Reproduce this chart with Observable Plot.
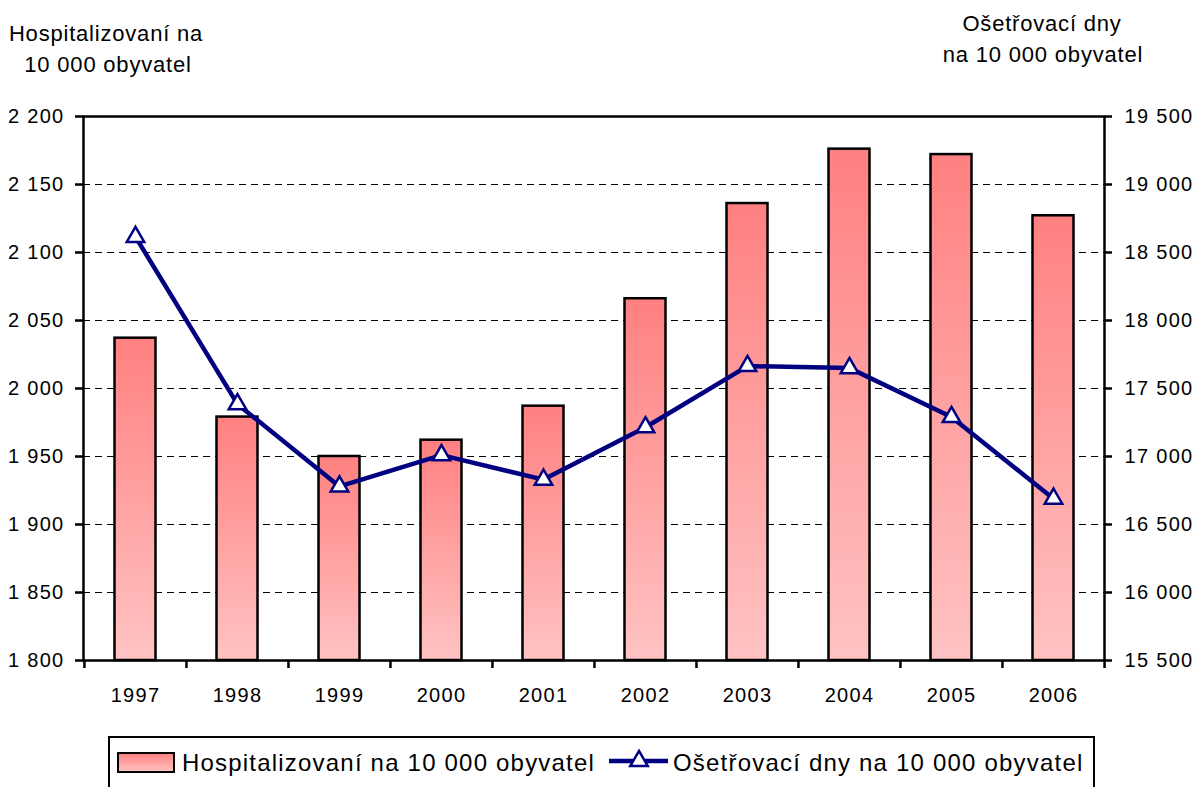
<!DOCTYPE html>
<html>
<head>
<meta charset="utf-8">
<script src="https://cdn.jsdelivr.net/npm/d3@7"></script>
<script src="https://cdn.jsdelivr.net/npm/@observablehq/plot@0.6"></script>
<style>
  body { margin: 0; background: #fff; }
  #wrap { position: relative; width: 1201px; height: 787px; overflow: hidden; background: #fff; }
  #wrap svg { display: block; }
  #overlay { position: absolute; left: 0; top: 0; pointer-events: none; }
</style>
</head>
<body>
<div id="wrap"></div>
<script>
// ---- data ----
const years = [1997, 1998, 1999, 2000, 2001, 2002, 2003, 2004, 2005, 2006];
const hospitalized = [2037, 1979, 1950, 1962, 1987, 2066, 2136, 2176, 2172, 2127];
const treatmentDays = [18615, 17385, 16780, 17010, 16830, 17215, 17665, 17650, 17290, 16690];
const leftTicks = [1800, 1850, 1900, 1950, 2000, 2050, 2100, 2150, 2200];
const rightTicks = [15500, 16000, 16500, 17000, 17500, 18000, 18500, 19000, 19500];
const seriesNames = ["Hospitalizovaní na 10 000 obyvatel", "Ošetřovací dny na 10 000 obyvatel"];
const leftTitle = ["Hospitalizovaní na", "10 000 obyvatel"];
const rightTitle = ["Ošetřovací dny", "na 10 000 obyvatel"];

const leftMin = leftTicks[0], leftMax = leftTicks[leftTicks.length - 1];
const rightMin = rightTicks[0], rightMax = rightTicks[rightTicks.length - 1];
const toLeft = v => leftMin + (v - rightMin) * (leftMax - leftMin) / (rightMax - rightMin);
const toRight = v => rightMin + (v - leftMin) * (rightMax - rightMin) / (leftMax - leftMin);

const table = years.map((year, i) => ({year, hosp: hospitalized[i], days: treatmentDays[i]}));

const fmt = d3.formatLocale({thousands: " ", grouping: [3], decimal: ",", currency: ["", ""]}).format(",");

const W = 1201, H = 787;
const mL = 83, mR = 97, mT = 116, mB = 127;
const step = (W - mL - mR) / years.length;
const plotH = H - mT - mB;
const FONT = "'Liberation Sans', Arial, sans-serif";
const NAVY = "#000080";
const MARKER_R = 6.5;

const plot = Plot.plot({
  width: W, height: H,
  marginLeft: mL, marginRight: mR, marginTop: mT, marginBottom: mB,
  style: {fontFamily: FONT, fontSize: "20px", letterSpacing: "1.3px", color: "#000", background: "#fff", overflow: "visible"},
  x: {type: "band", domain: years, padding: 0},
  y: {domain: [leftMin, leftMax]},
  marks: [
    Plot.gridY(leftTicks.slice(1, -1), {stroke: "#000", strokeOpacity: 1, strokeWidth: 1, strokeDasharray: "7,5"}),
    Plot.barY(table, {x: "year", y1: () => leftMin, y2: "hosp", fill: "url(#barGrad)", stroke: "#000", strokeWidth: 2.5, insetLeft: 30.5, insetRight: 30.5}),
    Plot.frame({stroke: "#000", strokeWidth: 2.5}),
    Plot.ruleX(years, {x: d => d, dx: -step / 2, insetTop: plotH, insetBottom: -8, stroke: "#000", strokeWidth: 2.5}),
    Plot.ruleX(years.slice(-1), {x: d => d, dx: step / 2, insetTop: plotH, insetBottom: -8, stroke: "#000", strokeWidth: 2.5}),
    Plot.line(table, {x: "year", y: d => toLeft(d.days), stroke: NAVY, strokeWidth: 4.5}),
    Plot.dot(table, {x: "year", y: d => toLeft(d.days), symbol: "triangle", r: MARKER_R, fill: "#fff", stroke: NAVY, strokeWidth: 2.5}),
    Plot.axisY(leftTicks, {anchor: "left", tickSize: 8, tickPadding: 11, tickFormat: fmt, fontSize: 20, label: null, strokeWidth: 2.5}),
    Plot.axisY(leftTicks, {anchor: "right", tickSize: 7, tickPadding: 13, tickFormat: d => fmt(Math.round(toRight(d))), fontSize: 20, label: null, strokeWidth: 2.5}),
    Plot.axisX({tickSize: 0, tickPadding: 27, fontSize: 20, label: null, tickFormat: d => String(d)})
  ]
});

const ns = "http://www.w3.org/2000/svg";
function addGradient(svg, id) {
  const defs = document.createElementNS(ns, "defs");
  const g = document.createElementNS(ns, "linearGradient");
  g.setAttribute("id", id);
  g.setAttribute("x1", "0"); g.setAttribute("y1", "0");
  g.setAttribute("x2", "0"); g.setAttribute("y2", "1");
  [["0%", "#FF8080"], ["100%", "#FFC3C3"]].forEach(([o, c]) => {
    const s = document.createElementNS(ns, "stop");
    s.setAttribute("offset", o); s.setAttribute("stop-color", c);
    g.appendChild(s);
  });
  defs.appendChild(g);
  svg.insertBefore(defs, svg.firstChild);
}
addGradient(plot, "barGrad");
const wrap = document.getElementById("wrap");
wrap.appendChild(plot);

// ---- overlay: axis titles and legend ----
const ov = d3.select(wrap).append("svg").attr("id", "overlay").attr("width", W).attr("height", H)
  .style("font-family", FONT);
addGradient(ov.node(), "legGrad");

const tt = ov.append("g").attr("font-size", 22).attr("letter-spacing", "0.8px").attr("text-anchor", "middle").attr("fill", "#000");
tt.append("text").attr("x", 106).attr("y", 41).text(leftTitle[0]);
tt.append("text").attr("x", 108).attr("y", 72).text(leftTitle[1]);
tt.append("text").attr("x", 1042).attr("y", 31).text(rightTitle[0]);
tt.append("text").attr("x", 1043).attr("y", 62).text(rightTitle[1]);

const lg = ov.append("g");
lg.append("rect").attr("x", 109).attr("y", 737).attr("width", 985).attr("height", 90)
  .attr("fill", "#fff").attr("stroke", "#000").attr("stroke-width", 2);
lg.append("rect").attr("x", 118).attr("y", 753).attr("width", 56).attr("height", 19)
  .attr("fill", "url(#legGrad)").attr("stroke", "#000").attr("stroke-width", 2);
lg.append("text").attr("x", 182).attr("y", 771).attr("font-size", 24).attr("letter-spacing", "1.2px").text(seriesNames[0]);
lg.append("line").attr("x1", 609).attr("x2", 668).attr("y1", 761).attr("y2", 761)
  .attr("stroke", NAVY).attr("stroke-width", 4.5);
lg.append("path").attr("d", d3.symbol(d3.symbolTriangle, Math.PI * MARKER_R * MARKER_R)())
  .attr("transform", "translate(639,761)").attr("fill", "#fff").attr("stroke", NAVY).attr("stroke-width", 2.5);
lg.append("text").attr("x", 673).attr("y", 771).attr("font-size", 24).attr("letter-spacing", "1.2px").text(seriesNames[1]);
</script>
</body>
</html>
